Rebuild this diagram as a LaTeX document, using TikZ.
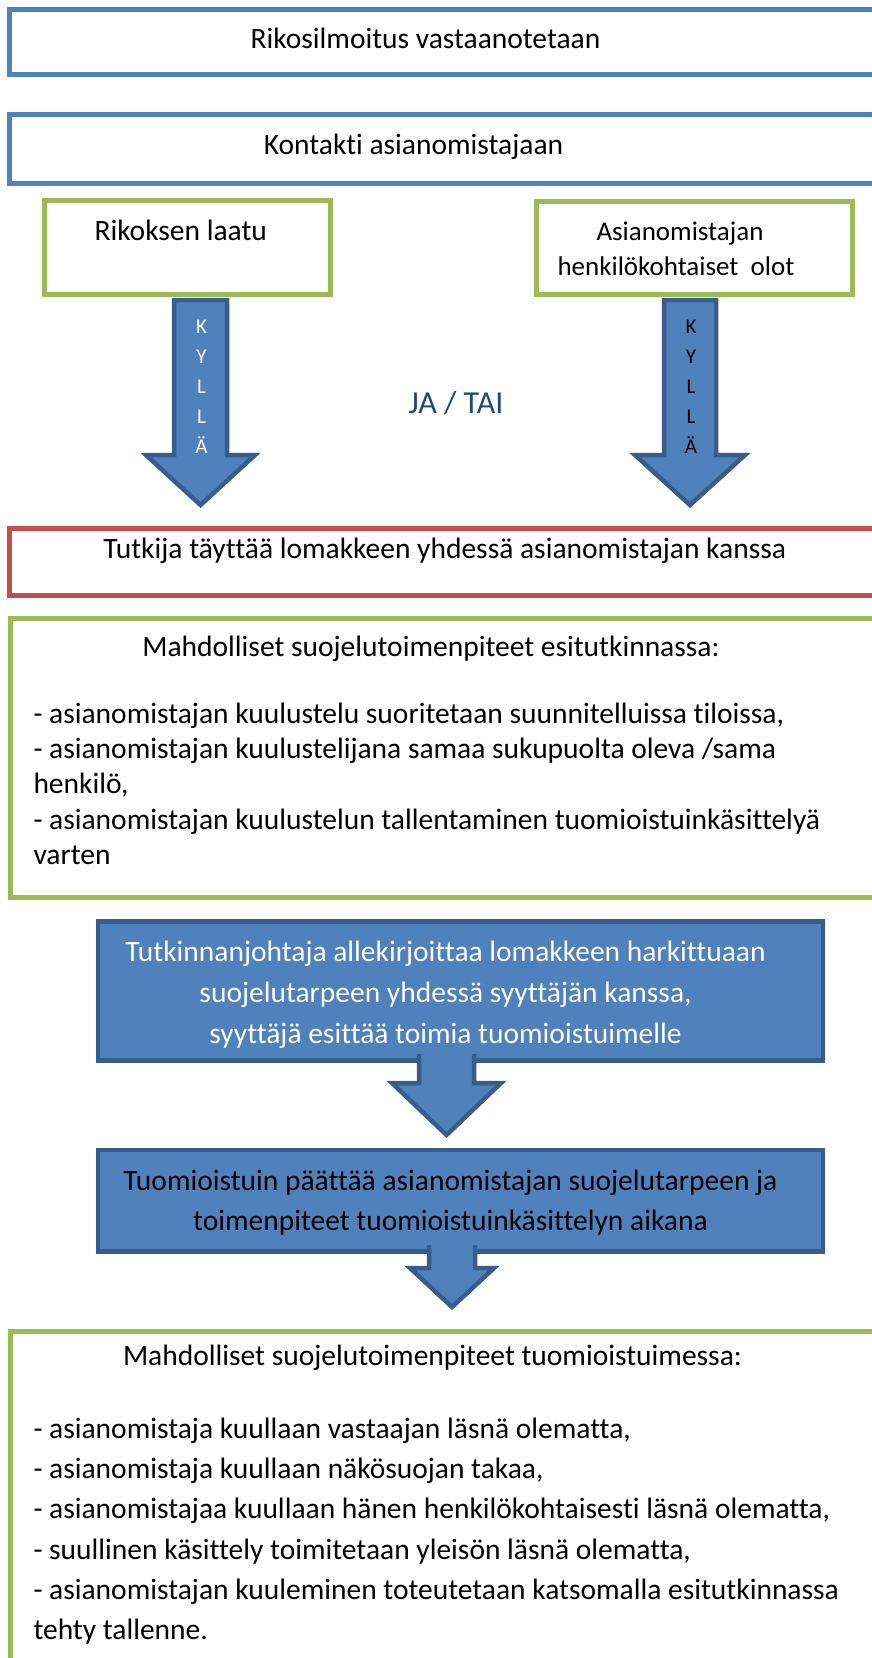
\documentclass[tikz,border=0pt]{standalone}
\usepackage{fontspec}
\setmainfont{Carlito}[Ligatures=NoCommon]
\definecolor{obl}{HTML}{4F81BD}
\definecolor{ogr}{HTML}{9BBB59}
\definecolor{ord}{HTML}{C0504D}
\definecolor{dbl}{HTML}{385D8A}
\definecolor{jat}{HTML}{1F497D}
\tikzset{
  frame/.style={draw, line width=5pt, rectangle, inner sep=0pt, outer sep=0pt},
  fbox/.style={draw=dbl, fill=obl, line width=4.5pt, rectangle, inner sep=0pt, outer sep=0pt},
  txt/.style={inner sep=0pt, anchor=base, font=\fontsize{29.5}{35}\selectfont},
  ltxt/.style={txt, anchor=base west},
  stxt/.style={inner sep=0pt, anchor=base, font=\fontsize{27}{33}\selectfont},
  barrow/.style={draw=dbl, fill=obl, line width=4.5pt, line join=miter},
  letter/.style={inner sep=0pt, anchor=base, font=\fontsize{21}{25}\selectfont}
}
\begin{document}
\begin{tikzpicture}[x=1pt,y=-1pt]
\useasboundingbox (0,0) rectangle (872,1658);
\clip (0,0) rectangle (872,1658);
% boxes
\node[frame, draw=obl, minimum width=890.3pt, minimum height=65pt] (b1) at (454.85,41.5) {};
\node[frame, draw=obl, minimum width=890.3pt, minimum height=69pt] (b2) at (454.85,149) {};
\node[frame, draw=ogr, minimum width=285.5pt, minimum height=94pt] (gl) at (187.25,247) {};
\node[frame, draw=ogr, minimum width=316pt, minimum height=93pt] (gr) at (694,247.5) {};
\node[frame, draw=ord, minimum width=890.3pt, minimum height=67.5pt] (rd) at (454.85,561.75) {};
\node[frame, draw=ogr, minimum width=889.7pt, minimum height=279pt] (g1) at (455.15,757.5) {};
\node[fbox, minimum width=725pt, minimum height=138.8pt] (bl1) at (460.5,991.1) {};
\node[fbox, minimum width=725pt, minimum height=101.5pt] (bl2) at (460.5,1200.75) {};
\node[frame, draw=ogr, minimum width=889.7pt, minimum height=369pt] (g2) at (455.15,1515.5) {};

% block arrows
\draw[barrow] (174,300) -- (174,455) -- (146,455) -- (200.5,505) -- (255,455) -- (227,455) -- (227,300) -- cycle;
\draw[barrow] (664,300) -- (664,455) -- (635,455) -- (690,505) -- (745,455) -- (716,455) -- (716,300) -- cycle;
\filldraw[barrow] (419,1054) -- (419,1083) -- (392,1083) -- (446.5,1135) -- (501,1083) -- (474,1083) -- (474,1054);
\filldraw[barrow] (429,1245) -- (429,1268) -- (410,1268) -- (452,1307) -- (494,1268) -- (475,1268) -- (475,1245);

% texts
\node[txt] (t1) at (425.5,48.3) {Rikosilmoitus vastaanotetaan};
\node[txt] (t2) at (413.5,154) {Kontakti asianomistajaan};
\node[ltxt] (t3) at (94.3,240) {Rikoksen laatu};
\node[stxt] (t4a) at (680,240) {Asianomistajan};
\node[stxt] (t4b) at (676,275) {henkilökohtaiset\ \ olot};
\node[inner sep=0pt, anchor=base, font=\fontsize{32}{38}\selectfont, text=jat] (jt) at (456,413) {JA / TAI};
\foreach \l/\yy [count=\i] in {K/333,Y/363,L/393,L/423,Ä/453}{
  \node[letter, text=white] (kl\i) at (201.5,\yy) {\l};
  \node[letter] (kr\i) at (691,\yy) {\l};
}
\node[txt] (t5) at (444.7,558.3) {Tutkija täyttää lomakkeen yhdessä asianomistajan kanssa};
\node[txt] (g1h) at (431,656) {Mahdolliset suojelutoimenpiteet esitutkinnassa:};
\node[ltxt] (g1a) at (33.3,723) {- asianomistajan kuulustelu suoritetaan suunnitelluissa tiloissa,};
\node[ltxt] (g1b) at (33.3,758.3) {- asianomistajan kuulustelijana samaa sukupuolta oleva /sama};
\node[ltxt] (g1c) at (33.3,793.6) {henkilö,};
\node[ltxt] (g1d) at (33.3,829) {- asianomistajan kuulustelun tallentaminen tuomioistuinkäsittelyä};
\node[ltxt] (g1e) at (33.3,864.3) {varten};
\node[txt, text=white] (u1) at (445.5,961.5) {Tutkinnanjohtaja allekirjoittaa lomakkeen harkittuaan};
\node[txt, text=white] (u2) at (445.5,1002.5) {suojelutarpeen yhdessä syyttäjän kanssa,};
\node[txt, text=white] (u3) at (445.5,1043) {syyttäjä esittää toimia tuomioistuimelle};
\node[txt] (v1) at (450.5,1190) {Tuomioistuin päättää asianomistajan suojelutarpeen ja};
\node[txt] (v2) at (450.5,1230) {toimenpiteet tuomioistuinkäsittelyn aikana};
\node[txt] (g2h) at (432.5,1365) {Mahdolliset suojelutoimenpiteet tuomioistuimessa:};
\node[ltxt] (g2a) at (33.3,1438.5) {- asianomistaja kuullaan vastaajan läsnä olematta,};
\node[ltxt] (g2b) at (33.3,1478.7) {- asianomistaja kuullaan näkösuojan takaa,};
\node[ltxt] (g2c) at (33.3,1518.9) {- asianomistajaa kuullaan hänen henkilökohtaisesti läsnä olematta,};
\node[ltxt] (g2d) at (33.3,1559.1) {- suullinen käsittely toimitetaan yleisön läsnä olematta,};
\node[ltxt] (g2e) at (33.3,1599.3) {- asianomistajan kuuleminen toteutetaan katsomalla esitutkinnassa};
\node[ltxt] (g2f) at (33.3,1639.5) {tehty tallenne.};
\end{tikzpicture}
\end{document}
